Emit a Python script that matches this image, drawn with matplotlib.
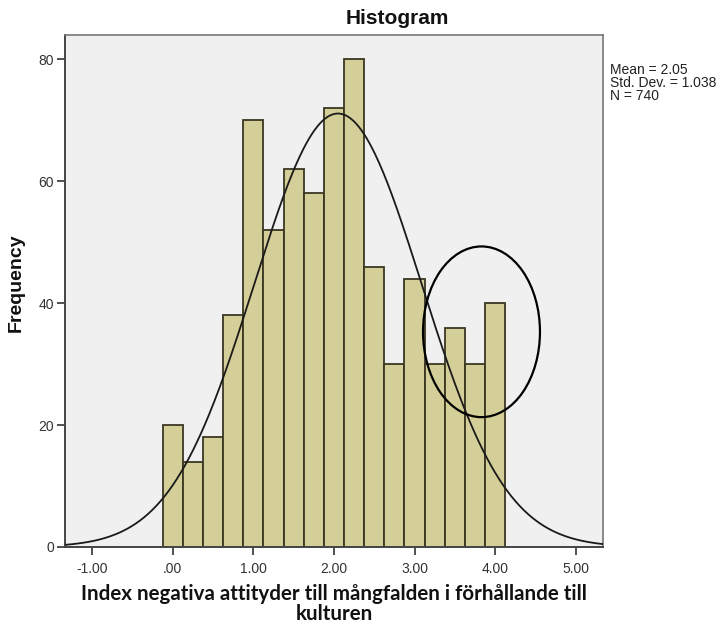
import numpy as np
import matplotlib

matplotlib.use("Agg")

import matplotlib.pyplot as plt
from matplotlib.patches import Ellipse


# bin layout: 17 bins of width .25 starting at -.125
bin_start = -0.125
bin_width = 0.25
counts = [20, 14, 18, 38, 70, 52, 62, 58, 72, 80, 46, 30, 44, 30, 36, 30, 40]

mean = 2.05
std_dev = 1.038
n_total = 740

x_ticks = [-1, 0, 1, 2, 3, 4, 5]
x_tick_labels = ["-1.00", ".00", "1.00", "2.00", "3.00", "4.00", "5.00"]
y_ticks = [0, 20, 40, 60, 80]

# hand-drawn circle around the right tail
circle_center = (3.83, 35.3)
circle_size = (1.45, 28.0)

bar_color = "#d4cf98"
edge_color = "#3b3722"
plot_bg = "#f0f0f0"

plt.rcParams["font.family"] = ["Liberation Sans", "DejaVu Sans"]
tick_font = ["Liberation Sans Narrow", "Liberation Sans", "DejaVu Sans"]

fig = plt.figure(figsize=(7.22, 6.23), dpi=100)
ax = fig.add_axes([0.090, 0.122, 0.745, 0.822])
ax.set_facecolor(plot_bg)

lefts = bin_start + bin_width * np.arange(len(counts))
ax.bar(lefts, counts, width=bin_width, align="edge", color=bar_color,
       edgecolor=edge_color, linewidth=1.3, zorder=2)

# normal curve scaled to the counts
xs = np.linspace(-1.34, 5.34, 400)
pdf = np.exp(-0.5 * ((xs - mean) / std_dev) ** 2) / (std_dev * np.sqrt(2 * np.pi))
ax.plot(xs, pdf * n_total * bin_width, color="#1a1a1a", linewidth=1.3, zorder=3)

ax.add_patch(Ellipse(circle_center, circle_size[0], circle_size[1], fill=False,
                     edgecolor="black", linewidth=1.6, zorder=4))

ax.set_xlim(-1.335, 5.335)
ax.set_ylim(0, 84)
ax.set_xticks(x_ticks)
ax.set_xticklabels(x_tick_labels)
ax.set_yticks(y_ticks)
ax.tick_params(axis="both", direction="out", length=6, width=1.2,
               labelsize=10, colors="#333333", labelcolor="#333333")
ax.tick_params(axis="y", pad=2)
ax.tick_params(axis="x", pad=5)
for lbl in ax.get_xticklabels() + ax.get_yticklabels():
    lbl.set_family(tick_font)

for side in ["left", "bottom"]:
    ax.spines[side].set_color("#444444")
    ax.spines[side].set_linewidth(1.4)
for side in ["top", "right"]:
    ax.spines[side].set_color("#777777")
    ax.spines[side].set_linewidth(1.2)

fig.text(397 / 722, 1 - 18 / 623, "Histogram", fontsize=15, fontweight="bold",
         ha="center", va="center", color="#111111")

ax.set_ylabel("Frequency", fontsize=14, fontweight="bold", color="#111111")
ax.yaxis.set_label_coords(-0.074, 0.516)

fig.text(334 / 722, 1 - 604 / 623,
         "Index negativa attityder till mångfalden i förhållande till\nkulturen",
         fontsize=14.8, fontweight="bold", ha="center", va="center",
         multialignment="center", linespacing=0.97, color="#111111",
         family=["Lato", "DejaVu Sans"])

fig.text(610 / 722, 1 - 63 / 623, "Mean = 2.05\nStd. Dev. = 1.038\nN = 740",
         fontsize=10, va="top", ha="left", color="#222222", linespacing=0.9)

plt.savefig("out.png", dpi=100)
